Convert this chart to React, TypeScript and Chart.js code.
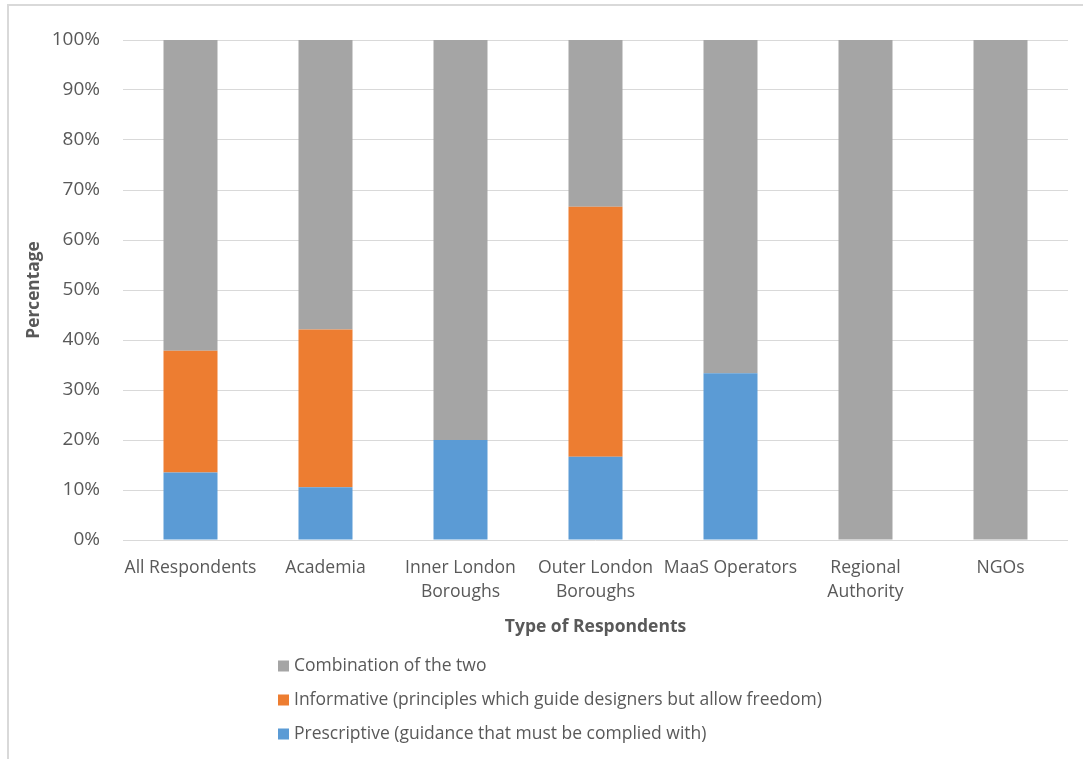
import { useEffect, useRef } from "react";
import { Chart, registerables } from "chart.js";

Chart.register(...registerables);

// Respondent groups (multi-line labels wrap under each bar)
const categories: string[][] = [
  ["All Respondents"],
  ["Academia"],
  ["Inner London", "Boroughs"],
  ["Outer London", "Boroughs"],
  ["MaaS Operators"],
  ["Regional", "Authority"],
  ["NGOs"],
];

// Share of each guidance preference, in percent
const prescriptive = [13.51, 10.53, 20, 16.67, 33.33, 0, 0];
const informative = [24.32, 31.58, 0, 50, 0, 0, 0];
const combination = [62.16, 57.89, 80, 33.33, 66.67, 100, 100];

const seriesLabels = [
  "Prescriptive (guidance that must be complied with)",
  "Informative (principles which guide designers but allow freedom)",
  "Combination of the two",
];
const seriesColors = ["#5B9BD5", "#ED7D31", "#A5A5A5"];

const yTickStep = 10;
const yMax = 100;

const FONT = '"Open Sans", sans-serif';
const TEXT = "#595959";
const GRID = "#D9D9D9";

// Thin frame along the top and left edges of the chart object
const framePlugin = {
  id: "frame",
  beforeDraw(chart: Chart) {
    const { ctx, width, height } = chart;
    ctx.save();
    ctx.fillStyle = "#FFFFFF";
    ctx.fillRect(0, 0, width, height);
    ctx.fillStyle = GRID;
    ctx.fillRect(7, 4, width - 7, 2);
    ctx.fillRect(7, 4, 2, height - 4);
    ctx.restore();
  },
};

// Vertical legend under the axis title, topmost series listed first
const legendPlugin = {
  id: "stackLegend",
  afterDraw(chart: Chart) {
    const { ctx } = chart;
    const ds = chart.data.datasets;
    const x0 = 278;
    const y0 = chart.chartArea.bottom + 126;
    const rowGap = 34;
    ctx.save();
    ctx.font = `17.5px ${FONT}`;
    ctx.textBaseline = "middle";
    ctx.textAlign = "left";
    for (let i = ds.length - 1, row = 0; i >= 0; i--, row++) {
      const y = y0 + row * rowGap;
      ctx.fillStyle = ds[i].backgroundColor as string;
      ctx.fillRect(x0, y - 5.5, 11, 11);
      ctx.fillStyle = TEXT;
      ctx.fillText(ds[i].label as string, x0 + 16, y);
    }
    ctx.restore();
  },
};

export default function App() {
  const canvasRef = useRef<HTMLCanvasElement | null>(null);

  useEffect(() => {
    if (!canvasRef.current) return;
    const values = [prescriptive, informative, combination];
    const chart = new Chart(canvasRef.current, {
      type: "bar",
      data: {
        labels: categories,
        datasets: values.map((data, i) => ({
          label: seriesLabels[i],
          data,
          backgroundColor: seriesColors[i],
          borderWidth: 0,
          barPercentage: 0.4,
          categoryPercentage: 1,
        })),
      },
      options: {
        responsive: false,
        animation: false,
        devicePixelRatio: 1,
        layout: { padding: { left: 0, top: 40, right: 15, bottom: 114 } },
        plugins: {
          legend: { display: false },
          tooltip: { enabled: false },
        },
        scales: {
          x: {
            stacked: true,
            grid: { display: false, drawTicks: false },
            border: { display: false },
            ticks: {
              color: TEXT,
              font: { family: FONT, size: 17.6, lineHeight: 1.36 },
              padding: 16,
              maxRotation: 0,
              autoSkip: false,
            },
            title: {
              display: true,
              text: "Type of Respondents",
              color: TEXT,
              font: { family: FONT, size: 17.5, weight: "bold", lineHeight: 1.2 },
              padding: { top: 0, bottom: 7 },
            },
            afterFit(scale: any) {
              scale.height = 105;
            },
          },
          y: {
            stacked: true,
            min: 0,
            max: yMax,
            grid: { color: GRID, drawTicks: false, lineWidth: 1 },
            border: { display: false },
            ticks: {
              stepSize: yTickStep,
              color: TEXT,
              font: { family: FONT, size: 19 },
              padding: 23,
              callback: (v: any) => `${v}%`,
            },
            title: {
              display: true,
              text: "Percentage",
              color: TEXT,
              font: { family: FONT, size: 17.3, weight: "bold", lineHeight: 1.2 },
              padding: { top: 24, bottom: 0 },
            },
            afterFit(scale: any) {
              scale.width = 123;
            },
          },
        },
      },
      plugins: [framePlugin, legendPlugin],
    });
    return () => chart.destroy();
  }, []);

  return (
    <div style={{ position: "absolute", left: 0, top: 0 }}>
      <canvas ref={canvasRef} width={1083} height={759} />
    </div>
  );
}
